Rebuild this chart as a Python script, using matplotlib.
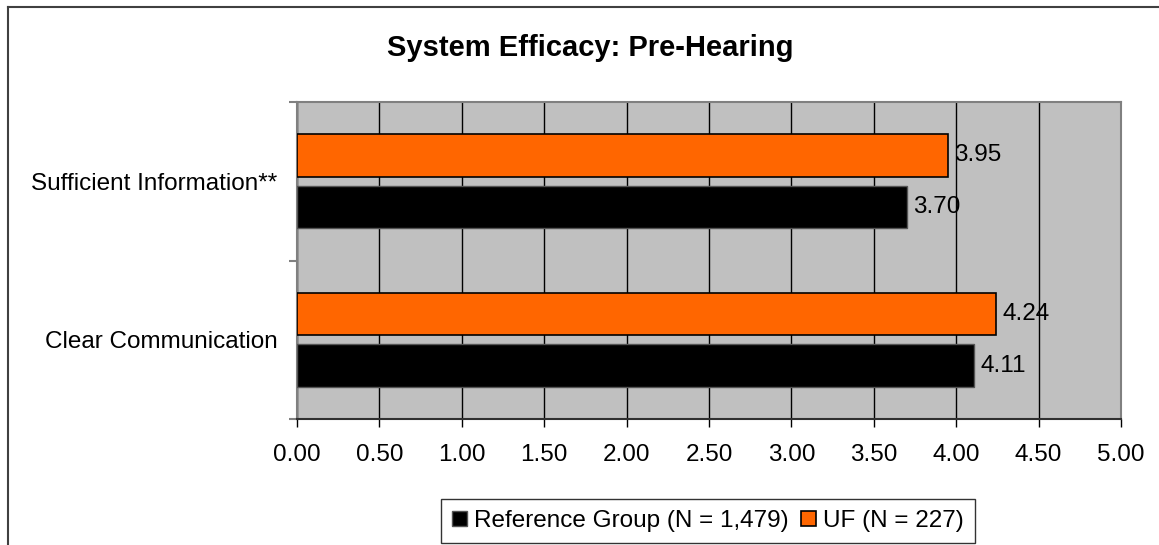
import numpy as np
import matplotlib
matplotlib.use("Agg")
import matplotlib.pyplot as plt
from matplotlib.lines import Line2D

plt.rcParams['font.family'] = ['Liberation Sans', 'DejaVu Sans']

categories = ["Sufficient Information**", "Clear Communication"]
ref_vals = [3.70, 4.11]
uf_vals = [3.95, 4.24]
ref_label = "Reference Group (N = 1,479)"
uf_label = "UF (N = 227)"
xticks = np.arange(0, 5.01, 0.5)

fs = 17.5
fig = plt.figure(figsize=(11.59, 5.45), dpi=100)
ax = fig.add_axes([297/1159, 1 - 419/545, (1121-297)/1159, (419-102)/545])

y = np.arange(len(categories))
h = 0.27
off = 0.163
ax.barh(y + off, ref_vals, height=h, color="black", edgecolor="#555555", lw=1, zorder=3, label=ref_label)
ax.barh(y - off, uf_vals, height=h, color="#FF6600", edgecolor="black", lw=1.2, zorder=3, label=uf_label)

for yi, v in zip(y, ref_vals):
    ax.text(v + 0.04, yi + off, f"{v:.2f}", va="center", ha="left", fontsize=fs, zorder=4)
for yi, v in zip(y, uf_vals):
    ax.text(v + 0.04, yi - off, f"{v:.2f}", va="center", ha="left", fontsize=fs, zorder=4)

ax.set_xlim(0, 5)
ax.set_ylim(1.5, -0.5)
ax.set_facecolor("#C0C0C0")
ax.set_xticks(xticks)
ax.set_xticklabels([f"{t:.2f}" for t in xticks], fontsize=fs)
ax.xaxis.grid(True, color="black", lw=1, zorder=1)
ax.set_yticks([-0.5, 0.5, 1.5])
ax.set_yticklabels([])
ax.set_yticks(y, minor=True)
ax.set_yticklabels(categories, minor=True, fontsize=fs)
ax.tick_params(axis="y", which="minor", length=0, pad=14)
ax.tick_params(axis="y", which="major", length=6, color="#808080", width=1.5)
ax.tick_params(axis="x", length=6, color="black", width=1, pad=12)
for s in ax.spines.values():
    s.set_color("#808080")
    s.set_linewidth(1.5)
ax.spines["bottom"].set_color("#303030")

fig.text(590/1159, 1 - 48/545, "System Efficacy: Pre-Hearing", ha="center", va="center",
         fontsize=21, fontweight="bold")

handles, labels = ax.get_legend_handles_labels()
leg = fig.legend(handles, labels, loc="center", bbox_to_anchor=(708/1159, 1 - 521/545),
                 ncol=2, fontsize=fs, frameon=True, fancybox=False, edgecolor="black",
                 handlelength=0.6, handleheight=0.6, handletextpad=0.3, columnspacing=0.5,
                 borderpad=0.45, borderaxespad=0)
leg.get_frame().set_linewidth(1)

# figure border (top and left only, the rest falls outside the picture)
fig.add_artist(Line2D([8/1159, 8/1159], [0, 1 - 7/545], transform=fig.transFigure, color="#404040", lw=1.5))
fig.add_artist(Line2D([8/1159, 1], [1 - 7/545, 1 - 7/545], transform=fig.transFigure, color="#404040", lw=1.5))

fig.savefig("out.png", dpi=100)
